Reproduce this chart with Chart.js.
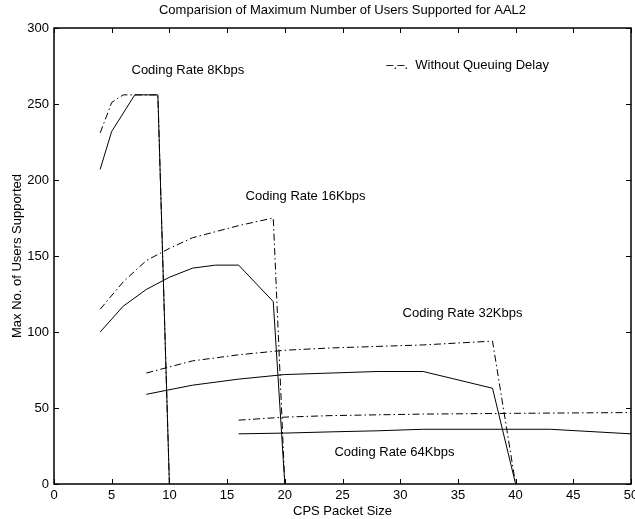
<!DOCTYPE html>
<html lang="en">

<head>
    <meta charset="UTF-8">
    <title>AAL2 - Max Users</title>
    <script src="https://cdn.jsdelivr.net/npm/chart.js"></script>
    <style>
        html, body { margin: 0; padding: 0; background: #fff; }
        canvas { display: block; }
    </style>
</head>

<body>
    <canvas id="grafico" width="635" height="519"></canvas>

    <script>
        // CPS packet size (x) and max number of users (y) for each coding rate
        // solid = with queuing delay, dash-dot = without queuing delay
        const cps8 = [4, 5, 7, 9, 10];
        const users8 = [207, 232, 256, 256, 0];
        const cps8Sem = [4, 5, 6, 9, 10];
        const users8Sem = [231, 251, 256, 256, 0];

        const cps16 = [4, 6, 8, 10, 12, 14, 16, 19, 20];
        const users16 = [100, 117, 128, 136, 142, 144, 144, 120, 0];
        const cps16Sem = [4, 6, 8, 10, 12, 14, 16, 19, 20];
        const users16Sem = [115, 133, 147, 155, 162, 166, 170, 175, 0];

        const cps32 = [8, 12, 16, 20, 24, 28, 32, 38, 40];
        const users32 = [59, 65, 69, 72, 73, 74, 74, 63, 0];
        const cps32Sem = [8, 12, 16, 20, 24, 28, 32, 38, 40];
        const users32Sem = [73, 81, 85, 88, 89.5, 90.5, 91.5, 94, 0];

        const cps64 = [16, 20, 24, 28, 32, 43, 50];
        const users64 = [33, 33.5, 34.3, 35, 36, 36, 33];
        const cps64Sem = [16, 20, 24, 32, 40, 50];
        const users64Sem = [42, 44, 45, 46, 46.5, 47];

        // axis ticks
        const xTicks = [0, 5, 10, 15, 20, 25, 30, 35, 40, 45, 50];
        const yTicks = [0, 50, 100, 150, 200, 250, 300];

        // text notes inside the plot (in data units)
        const notasTexto = ['Coding Rate 8Kbps', 'Coding Rate 16Kbps', 'Coding Rate 32Kbps', 'Coding Rate 64Kbps'];
        const notasX = [11.6, 21.8, 35.4, 29.5];
        const notasY = [272, 189, 112.5, 21];

        const fonte = "'Liberation Sans', Arial, Helvetica, sans-serif";
        const pontilhado = [7, 3, 1.5, 3];

        function serie(xs, ys, tracejado) {
            return {
                data: xs.map(function (x, i) { return { x: x, y: ys[i] }; }),
                borderColor: '#000',
                borderWidth: 1,
                borderDash: tracejado ? pontilhado : [],
                pointRadius: 0,
                fill: false,
                tension: 0
            };
        }

        // frame, inward ticks and the notes
        const molduraPlugin = {
            id: 'moldura',
            afterDatasetsDraw(chart) {
                const ctx = chart.ctx;
                const a = chart.chartArea;
                const sx = chart.scales.x;
                const sy = chart.scales.y;
                const t = 5;

                ctx.save();
                ctx.strokeStyle = '#000';
                ctx.lineWidth = 1;
                ctx.setLineDash([]);
                ctx.beginPath();
                xTicks.forEach(function (v) {
                    const px = Math.round(sx.getPixelForValue(v)) + 0.5;
                    ctx.moveTo(px, a.bottom); ctx.lineTo(px, a.bottom - t);
                    ctx.moveTo(px, a.top); ctx.lineTo(px, a.top + t);
                });
                yTicks.forEach(function (v) {
                    const py = Math.round(sy.getPixelForValue(v)) + 0.5;
                    ctx.moveTo(a.left, py); ctx.lineTo(a.left + t, py);
                    ctx.moveTo(a.right, py); ctx.lineTo(a.right - t, py);
                });
                ctx.stroke();

                ctx.lineWidth = 1.5;
                ctx.strokeRect(a.left, a.top, a.right - a.left, a.bottom - a.top);

                ctx.fillStyle = '#000';
                ctx.font = '13px ' + fonte;
                ctx.textBaseline = 'middle';
                ctx.textAlign = 'center';
                notasTexto.forEach(function (txt, i) {
                    ctx.fillText(txt, sx.getPixelForValue(notasX[i]), sy.getPixelForValue(notasY[i]));
                });
                ctx.textAlign = 'left';
                ctx.fillText('\u2013.\u2013.  Without Queuing Delay', sx.getPixelForValue(28.8), sy.getPixelForValue(275.7));
                ctx.restore();
            }
        };

        const config = {
            type: 'line',
            data: {
                datasets: [
                    serie(cps8, users8, false),
                    serie(cps8Sem, users8Sem, true),
                    serie(cps16, users16, false),
                    serie(cps16Sem, users16Sem, true),
                    serie(cps32, users32, false),
                    serie(cps32Sem, users32Sem, true),
                    serie(cps64, users64, false),
                    serie(cps64Sem, users64Sem, true)
                ]
            },
            options: {
                responsive: false,
                animation: false,
                devicePixelRatio: 1,
                layout: { padding: { top: 0, right: 4, bottom: 0, left: 0 } },
                plugins: {
                    legend: { display: false },
                    tooltip: { enabled: false },
                    title: {
                        display: true,
                        fullSize: false,
                        text: 'Comparision of Maximum Number of Users Supported for AAL2',
                        color: '#000',
                        font: { family: fonte, size: 13, weight: 'normal' },
                        padding: { top: 3, bottom: 9.4 }
                    }
                },
                scales: {
                    x: {
                        type: 'linear',
                        min: 0,
                        max: 50,
                        afterBuildTicks: function (s) { s.ticks = xTicks.map(function (v) { return { value: v }; }); },
                        afterFit: function (s) { s.height = 35; s.paddingLeft = 0; s.paddingRight = 0; },
                        grid: { display: false, drawTicks: false },
                        border: { display: false },
                        ticks: { color: '#000', padding: 4, maxRotation: 0, autoSkip: false, font: { family: fonte, size: 13 } },
                        title: {
                            display: true,
                            text: 'CPS Packet Size',
                            color: '#000',
                            font: { family: fonte, size: 13 },
                            padding: { top: 0, bottom: 0 }
                        }
                    },
                    y: {
                        type: 'linear',
                        min: 0,
                        max: 300,
                        afterBuildTicks: function (s) { s.ticks = yTicks.map(function (v) { return { value: v }; }); },
                        afterFit: function (s) { s.width = 54; },
                        grid: { display: false, drawTicks: false },
                        border: { display: false },
                        ticks: { color: '#000', padding: 5, autoSkip: false, font: { family: fonte, size: 13 } },
                        title: {
                            display: true,
                            text: 'Max No. of Users Supported',
                            color: '#000',
                            font: { family: fonte, size: 13 },
                            padding: { top: 10, bottom: 0 }
                        }
                    }
                }
            },
            plugins: [molduraPlugin]
        };

        let myChart = new Chart(document.getElementById('grafico'), config);
    </script>
</body>

</html>
